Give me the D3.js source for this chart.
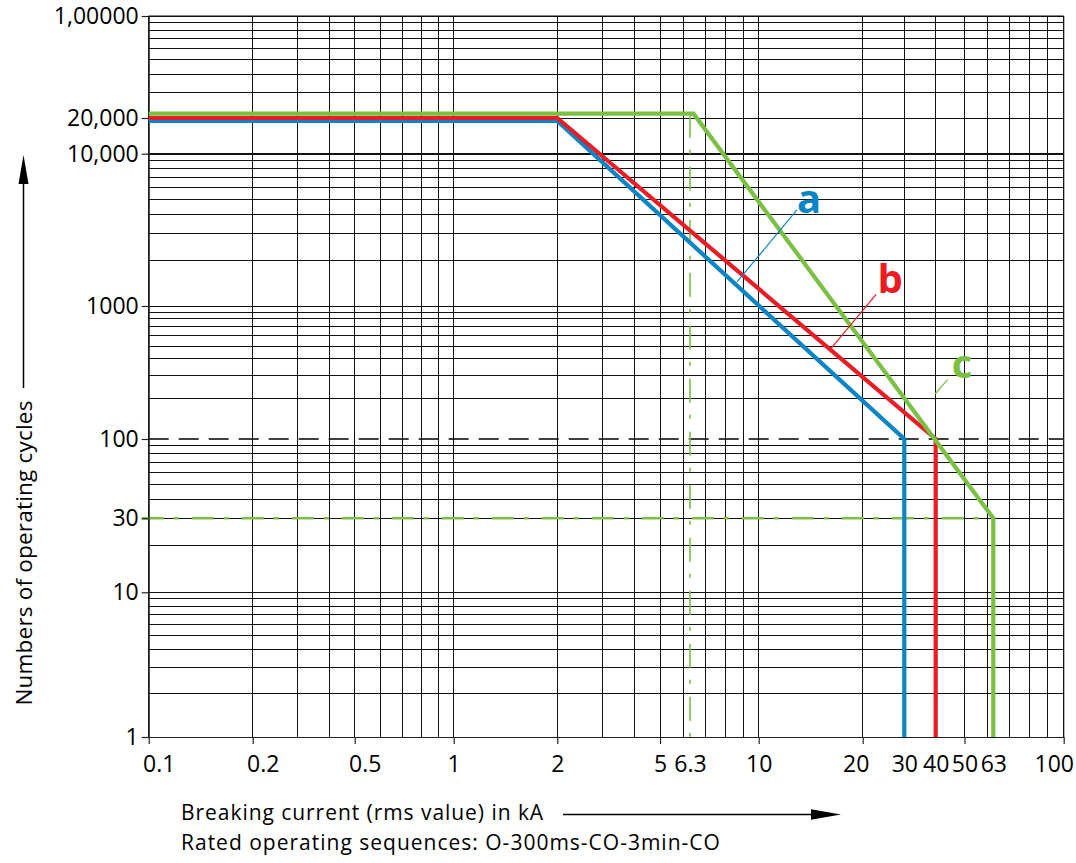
<!DOCTYPE html>
<html><head><meta charset="utf-8">
<script src="https://cdn.jsdelivr.net/npm/d3@7"></script>
<style>
body{margin:0;background:#fff}
svg{display:block;background:#fff}
text{font-family:"Open Sans",sans-serif;fill:#000}
</style>
</head><body>
<svg id="chart" width="1076" height="863"></svg>
<script>
// ---------- data ----------
const xTickValues = [0.1, 0.2, 0.5, 1, 2, 5, 6.3, 10, 20, 30, 40, 50, 63, 100];
const xTickLabels = ["0.1", "0.2", "0.5", "1", "2", "5", "6.3", "10", "20", "30", "40", "50", "63", "100"];
const xTickMarked = [0.1, 0.2, 0.5, 1, 2, 5, 10, 20, 50, 100];
const yTickValues = [1, 10, 30, 100, 1000, 10000, 20000, 100000];
const yTickLabels = ["1", "10", "30", "100", "1000", "10,000", "20,000", "1,00000"];

const seriesNames = ["a", "b", "c"];
const seriesAx = [0.1, 2, 30, 30];
const seriesAy = [18900, 18900, 100, 1];
const seriesBx = [0.1, 2, 40, 40];
const seriesBy = [20000, 20000, 100, 1];
const seriesCx = [0.1, 6.45, 63, 63];
const seriesCy = [21400, 21400, 30, 1];

const refLineY100 = 100;       // dashed black
const refLineY30 = 30;         // green dash-dot
const refLineX63 = 6.3;        // green dash-dot

// label anchors (data units): [x kA, y cycles]
const labelPos = [[12.9, 4080], [23.1, 1223], [45.3, 286]];
const leaderFrom = [[12.9, 4270], [22.8, 1194], [43.9, 281]];
const leaderTo = [[8.64, 1438], [16.2, 481], [39.8, 218]];

// ---------- styles ----------
const colors = {a: "#0a85c8", b: "#ec1c24", c: "#7ac143"};
const xLabelDx = {"0.1": 10, "0.2": 10, "0.5": 10, "20": -7, "100": -10};

// ---------- scales ----------
const x = d3.scaleLog().domain(xTickValues)
  .range([148.7, 252.7, 354.7, 453.7, 557.3, 660, 690, 758.7, 862.7, 904.3, 935.7, 964.5, 993.3, 1063.7]);
const y = d3.scaleLog().domain(yTickValues)
  .range([737, 592.3, 518.3, 439, 306, 153.7, 118, 16]);

const svg = d3.select("#chart");
const X0 = x(0.1), X1 = x(100), Y0 = y(1), Y1 = y(100000);

// ---------- grid ----------
const xGrid = [];
[0.1, 1, 10].forEach(d => { for (let k = 1; k <= 9; k++) xGrid.push(+(k * d).toPrecision(3)); });
xGrid.push(100);
const yGrid = [];
[1, 10, 100, 1000, 10000].forEach(d => { for (let k = 1; k <= 9; k++) yGrid.push(k * d); });
yGrid.push(100000);

const grid = svg.append("g").attr("stroke", "#111").attr("shape-rendering", "crispEdges");
grid.selectAll("line.v").data(xGrid).join("line")
  .attr("x1", d => x(d)).attr("x2", d => x(d)).attr("y1", Y1).attr("y2", Y0)
  .attr("stroke-width", 1);
grid.selectAll("line.h").data(yGrid.filter(v => v !== refLineY100)).join("line")
  .attr("x1", X0).attr("x2", X1).attr("y1", d => y(d)).attr("y2", d => y(d))
  .attr("stroke-width", d => d === 10000 ? 2 : 1);

// dashed 100 line
svg.append("line").attr("x1", X0).attr("x2", X1)
  .attr("y1", y(refLineY100)).attr("y2", y(refLineY100))
  .attr("stroke", "#000").attr("stroke-width", 1.3).attr("stroke-dasharray", "20,10");

// green dash-dot reference lines
const cx63 = x(seriesCx[2]);
svg.append("line").attr("x1", X0 - 7).attr("x2", cx63)
  .attr("y1", y(refLineY30)).attr("y2", y(refLineY30))
  .attr("stroke", colors.c).attr("stroke-width", 2.4).attr("stroke-dasharray", "22,10,5,13");
svg.append("line").attr("x1", x(refLineX63)).attr("x2", x(refLineX63))
  .attr("y1", y(seriesCy[0])).attr("y2", Y0)
  .attr("stroke", colors.c).attr("stroke-width", 1.6).attr("stroke-dasharray", "24,12,4,13");

// ---------- axes ----------
const xAxis = d3.axisBottom(x).tickValues(xTickValues).tickSize(7).tickSizeOuter(0).tickPadding(12)
  .tickFormat((d, i) => xTickLabels[i]);
const gx = svg.append("g").attr("transform", `translate(0,${Y0})`).call(xAxis);
gx.select(".domain").attr("stroke", "#222").attr("stroke-width", 1.2);
gx.selectAll(".tick line").attr("stroke", "#222").attr("stroke-width", 1.2)
  .attr("display", d => xTickMarked.includes(d) ? null : "none");
gx.selectAll(".tick text").attr("font-family", '"Open Sans",sans-serif').attr("font-size", 23)
  .attr("dx", (d, i) => xLabelDx[xTickLabels[i]] || 0);

const yAxis = d3.axisLeft(y).tickValues(yTickValues).tickSize(7).tickSizeOuter(0).tickPadding(3)
  .tickFormat((d, i) => yTickLabels[i]);
const gy = svg.append("g").attr("transform", `translate(${X0},0)`).call(yAxis);
gy.select(".domain").attr("stroke", "#222").attr("stroke-width", 1.2);
gy.selectAll(".tick line").attr("stroke", "#222").attr("stroke-width", 1.2);
gy.selectAll(".tick text").attr("font-family", '"Open Sans",sans-serif').attr("font-size", 23);

// top & right border
svg.append("line").attr("x1", X0).attr("x2", X1).attr("y1", Y1).attr("y2", Y1)
  .attr("stroke", "#111").attr("stroke-width", 1.2);
svg.append("line").attr("x1", X1).attr("x2", X1).attr("y1", Y1).attr("y2", Y0)
  .attr("stroke", "#111").attr("stroke-width", 1.2);

// ---------- curves ----------
const line = d3.line().x(d => x(d[0])).y(d => y(d[1]));
const series = [
  {name: "a", xs: seriesAx, ys: seriesAy},
  {name: "b", xs: seriesBx, ys: seriesBy},
  {name: "c", xs: seriesCx, ys: seriesCy}
];
series.forEach(s => {
  svg.append("path").datum(s.xs.map((v, i) => [v, s.ys[i]]))
    .attr("d", line).attr("fill", "none")
    .attr("stroke", colors[s.name]).attr("stroke-width", 4.2)
    .attr("stroke-linejoin", "miter").attr("stroke-linecap", "butt");
});

// ---------- annotations ----------
seriesNames.forEach((n, i) => {
  svg.append("line")
    .attr("x1", x(leaderFrom[i][0])).attr("y1", y(leaderFrom[i][1]))
    .attr("x2", x(leaderTo[i][0])).attr("y2", y(leaderTo[i][1]))
    .attr("stroke", colors[n]).attr("stroke-width", 1.2);
  svg.append("text").attr("x", x(labelPos[i][0])).attr("y", y(labelPos[i][1]))
    .attr("font-size", 40).attr("font-weight", 700)
    .style("fill", colors[n]).text(n);
});

// ---------- titles ----------
svg.append("text").attr("transform", "translate(31.5,553) rotate(-90)")
  .attr("text-anchor", "middle").attr("font-size", 22.5).attr("letter-spacing", 0.2)
  .text("Numbers of operating cycles");
svg.append("line").attr("x1", 23.5).attr("x2", 23.5).attr("y1", 388).attr("y2", 180)
  .attr("stroke", "#000").attr("stroke-width", 1.5);
svg.append("path").attr("d", "M23.5,155 L18.5,184 L28.5,184 Z").attr("fill", "#000");

svg.append("text").attr("x", 181).attr("y", 820).attr("font-size", 21).attr("letter-spacing", 0.95)
  .text("Breaking current (rms value) in kA");
svg.append("text").attr("x", 181).attr("y", 849.5).attr("font-size", 21).attr("letter-spacing", 1.0)
  .text("Rated operating sequences: O-300ms-CO-3min-CO");
svg.append("line").attr("x1", 563).attr("x2", 815).attr("y1", 814.5).attr("y2", 814.5)
  .attr("stroke", "#000").attr("stroke-width", 1.5);
svg.append("path").attr("d", "M841,814.5 L811,809.3 L811,819.7 Z").attr("fill", "#000");
</script>
</body></html>
